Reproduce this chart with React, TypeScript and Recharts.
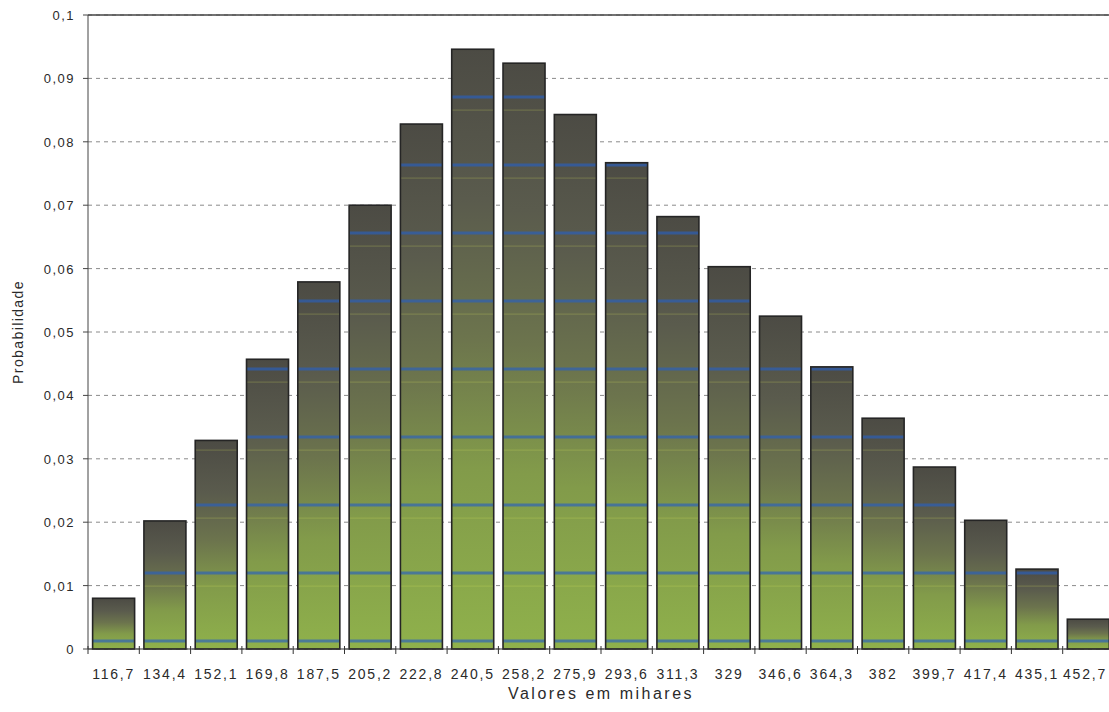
import React from 'react';
import { BarChart, Bar, XAxis, YAxis, CartesianGrid, ReferenceLine } from 'recharts';

// Value classes (thousands) and their probabilities
const categories = [
  '116,7', '134,4', '152,1', '169,8', '187,5', '205,2', '222,8', '240,5', '258,2', '275,9',
  '293,6', '311,3', '329', '346,6', '364,3', '382', '399,7', '417,4', '435,1', '452,7',
];
const probabilities = [
  0.008, 0.0202, 0.0329, 0.0457, 0.0579, 0.07, 0.0828, 0.0946, 0.0924, 0.0843,
  0.0767, 0.0682, 0.0603, 0.0525, 0.0445, 0.0364, 0.0287, 0.0203, 0.0126, 0.0047,
];
const yTicks = [0, 0.01, 0.02, 0.03, 0.04, 0.05, 0.06, 0.07, 0.08, 0.09, 0.1];

const data = categories.map((c, i) => ({ faixa: c, prob: probabilities[i] }));

const CHART_W = 1109;
const CHART_H = 712;
const MARGIN = { top: 15, right: -5, bottom: 0, left: 0 };
const Y_AXIS_W = 88;
const X_AXIS_H = 63;
const PLOT_W = CHART_W - MARGIN.left - MARGIN.right - Y_AXIS_W;
const HALF_BAND = PLOT_W / categories.length / 2;

const FONT = 'Arial, "Liberation Sans", sans-serif';

const fmt = (v: number) => String(v).replace('.', ',');

const XTick = (props: any) => {
  const { x, y, payload } = props;
  const bx = x - HALF_BAND;
  // keep the last label inside the drawing
  const tx = Math.min(x, CHART_W - 24);
  return (
    <g>
      <line x1={bx} y1={y - 3} x2={bx} y2={y + 5} stroke="#333" strokeWidth={1} />
      <text
        x={tx}
        y={y + 30}
        textAnchor="middle"
        fill="#2a2a2a"
        fontFamily={FONT}
        fontSize={14}
        letterSpacing={1.8}
      >
        {payload.value}
      </text>
    </g>
  );
};

const YTick = (props: any) => {
  const { x, y, payload } = props;
  return (
    <text
      x={x}
      y={y}
      dy={5}
      textAnchor="end"
      fill="#2a2a2a"
      fontFamily={FONT}
      fontSize={13}
      letterSpacing={1.5}
    >
      {fmt(payload.value)}
    </text>
  );
};

const YTitle = (props: any) => {
  const vb = props.viewBox || { x: 0, y: 15, width: 88, height: 634 };
  const cx = vb.x + 23;
  const cy = vb.y + vb.height / 2;
  return (
    <text
      x={cx}
      y={cy}
      transform={`rotate(-90, ${cx}, ${cy})`}
      textAnchor="middle"
      fill="#2a2a2a"
      fontFamily={FONT}
      fontSize={14}
      letterSpacing={1.4}
    >
      Probabilidade
    </text>
  );
};

const XTitle = (props: any) => {
  const vb = props.viewBox || { x: 88, y: 649, width: 1026, height: 63 };
  return (
    <text
      x={vb.x + vb.width / 2}
      y={vb.y + 50}
      textAnchor="middle"
      fill="#2a2a2a"
      fontFamily={FONT}
      fontSize={16}
      letterSpacing={2.5}
    >
      Valores em mihares
    </text>
  );
};

// Bar body: vertical gray-to-green gradient, banded texture, dark outline
const BarShape = (props: any) => {
  const { x, y, width, height } = props;
  if (!height || height <= 0) return null;
  return (
    <g>
      <rect x={x} y={y} width={width} height={height} fill="url(#barGrad)" />
      <rect x={x} y={y} width={width} height={height} fill="url(#barBands)" />
      <rect
        x={x}
        y={y}
        width={width}
        height={height}
        fill="none"
        stroke="#252525"
        strokeWidth={1.6}
      />
    </g>
  );
};

export default function App() {
  return (
    <div style={{ position: 'absolute', left: 0, top: 0, width: CHART_W, height: CHART_H, background: '#fff' }}>
      <svg width={0} height={0} style={{ position: 'absolute' }}>
        <defs>
          <linearGradient id="barGrad" x1="0" y1="0" x2="0" y2="1">
            <stop offset="0%" stopColor="#4c4b44" />
            <stop offset="25%" stopColor="#5a5b4d" />
            <stop offset="48%" stopColor="#6c744d" />
            <stop offset="70%" stopColor="#829b4a" />
            <stop offset="100%" stopColor="#8fb14b" />
          </linearGradient>
          <pattern id="barBands" patternUnits="userSpaceOnUse" x={0} y={0} width={8} height={68}>
            <rect x={0} y={27.5} width={8} height={3} fill="rgba(40,95,190,0.65)" />
            <rect x={0} y={41.5} width={8} height={1.2} fill="rgba(215,232,90,0.2)" />
          </pattern>
        </defs>
      </svg>
      <BarChart
        width={CHART_W}
        height={CHART_H}
        data={data}
        margin={MARGIN}
        barCategoryGap="9%"
      >
        <CartesianGrid
          horizontal
          vertical={false}
          stroke="#8a8a8a"
          strokeDasharray="4 4"
        />
        <ReferenceLine y={0.1} stroke="#444" strokeWidth={1.4} />
        <XAxis
          dataKey="faixa"
          height={X_AXIS_H}
          interval={0}
          tickLine={false}
          tickSize={0}
          tickMargin={0}
          axisLine={{ stroke: '#333', strokeWidth: 1 }}
          tick={<XTick />}
          label={{ content: (p: any) => <XTitle {...p} /> }}
        />
        <YAxis
          width={Y_AXIS_W}
          domain={[0, 0.1]}
          ticks={yTicks}
          interval={0}
          tickSize={5}
          tickMargin={8}
          tickLine={{ stroke: '#444' }}
          axisLine={{ stroke: '#444', strokeWidth: 1 }}
          tick={<YTick />}
          label={{ content: (p: any) => <YTitle {...p} /> }}
        />
        <Bar dataKey="prob" shape={<BarShape />} isAnimationActive={false} />
      </BarChart>
    </div>
  );
}
